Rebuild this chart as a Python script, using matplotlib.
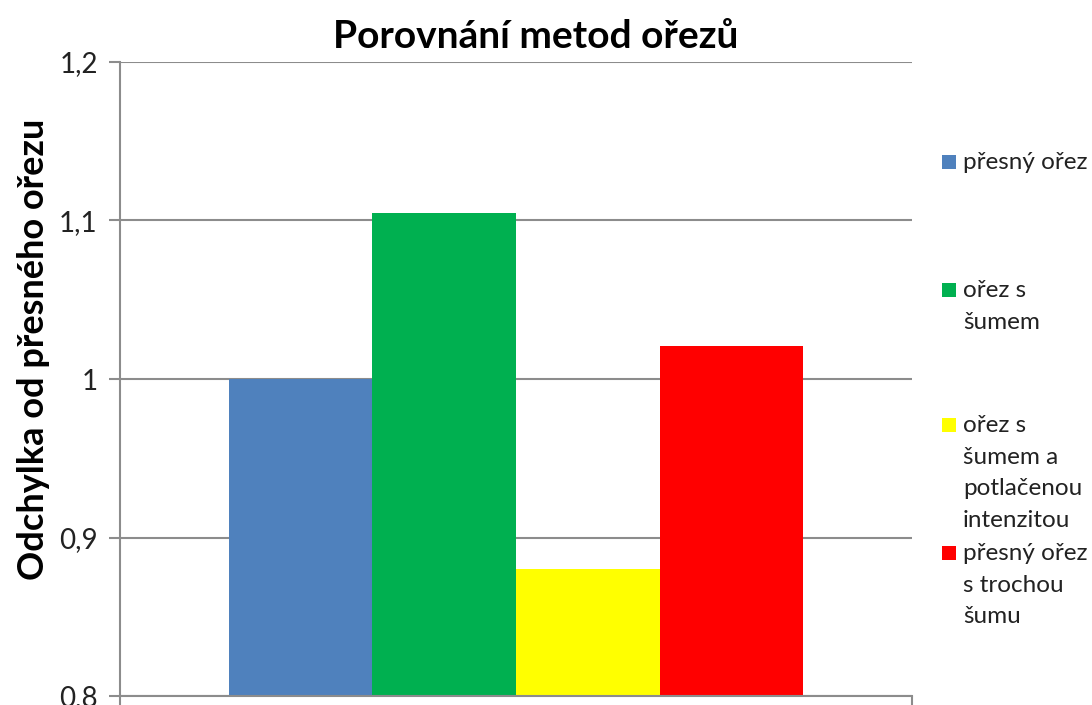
import matplotlib.pyplot as plt
from matplotlib.patches import Rectangle

plt.rcParams['font.family'] = ['Lato', 'DejaVu Sans']

# data
series = ['přesný ořez', 'ořez s\nšumem', 'ořez s\nšumem a\npotlačenou\nintenzitou',
          'přesný ořez\ns trochou\nšumu']
values = [1.0, 1.105, 0.88, 1.021]
colors = ['#4F81BD', '#00B050', '#FFFF00', '#FF0000']
yticks = [0.8, 0.9, 1.0, 1.1, 1.2]
ytick_labels = ['0,8', '0,9', '1', '1,1', '1,2']

W, H = 1092, 705
fig = plt.figure(figsize=(W / 100, H / 100), dpi=100)
ax = fig.add_axes([120 / W, 1 - 696 / H, 792 / W, 634 / H])

bw = 0.1815
n = len(values)
for i, (v, c) in enumerate(zip(values, colors)):
    x = (i - (n - 1) / 2) * bw
    ax.bar(x, v - 0.8, bottom=0.8, width=bw, color=c, zorder=2)

ax.set_xlim(-0.5, 0.5)
ax.set_ylim(0.8, 1.2)
ax.set_yticks(yticks)
ax.set_yticklabels(ytick_labels, fontsize=20, color='#222222')
ax.set_xticks([-0.5, 0.5])
ax.set_xticklabels([])
ax.tick_params(axis='y', length=8, width=1.5, color='#8c8c8c', pad=8)
ax.tick_params(axis='x', length=8, width=1.5, color='#8c8c8c')
ax.grid(axis='y', color='#8c8c8c', linewidth=1.5, zorder=0)
for s in ['top', 'right']:
    ax.spines[s].set_visible(False)
for s in ['left', 'bottom']:
    ax.spines[s].set_color('#8c8c8c')
    ax.spines[s].set_linewidth(1.5)

ax.set_ylabel('Odchylka od přesného ořezu', fontsize=26, fontweight='bold', va='center')
ax.yaxis.set_label_coords((34 - 120) / 792, (696 - 349) / 634)
fig.text(536 / W, 1 - 36 / H, 'Porovnání metod ořezů', fontsize=28,
         fontweight='bold', ha='center', va='center')

# legend, drawn by hand to get Excel-like spacing
line_y = [162, 290, 425, 553]
for lab, c, y in zip(series, colors, line_y):
    fig.patches.append(Rectangle((942 / W, 1 - (y + 7) / H), 14 / W, 14 / H,
                                 transform=fig.transFigure, facecolor=c, edgecolor='none'))
    fig.text(963 / W, 1 - (y - 10) / H, lab, fontsize=17.5, va='top', ha='left',
             linespacing=1.63, color='#222222')

fig.savefig('out.png', dpi=100)
